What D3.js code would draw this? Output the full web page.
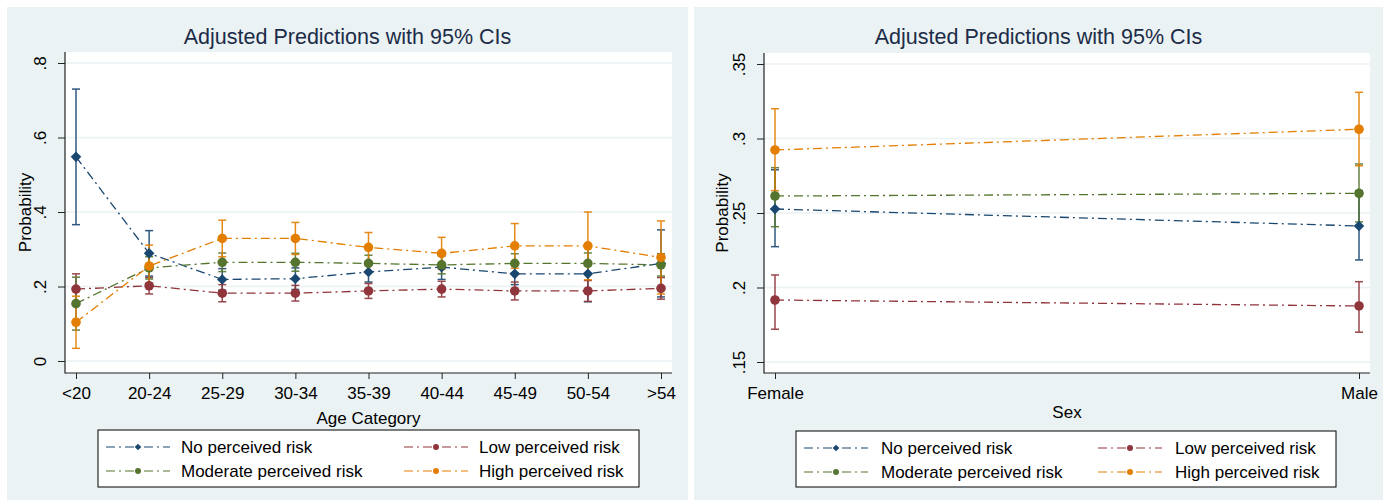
<!DOCTYPE html>
<html>
<head>
<meta charset="utf-8">
<script src="https://cdn.jsdelivr.net/npm/d3@7"></script>
<style>
  body { margin: 0; background: #fff; }
  svg { display: block; font-family: "Liberation Sans", Arial, sans-serif; }
</style>
</head>
<body>
<div id="chart"></div>
<script>
// series shared by both panels
const seriesNames = ['No perceived risk', 'Low perceived risk', 'Moderate perceived risk', 'High perceived risk'];
const seriesColors = ['#1a476f', '#90353b', '#55752f', '#e37e00'];
const seriesSymbols = ['diamond', 'circle', 'circle', 'circle'];

// left panel: age category
const ageCats = ['<20', '20-24', '25-29', '30-34', '35-39', '40-44', '45-49', '50-54', '>54'];
const ageNoEst = [0.548, 0.289, 0.219, 0.221, 0.239, 0.252, 0.234, 0.234, 0.262];
const ageNoLo  = [0.366, 0.228, 0.190, 0.192, 0.212, 0.219, 0.205, 0.159, 0.172];
const ageNoHi  = [0.730, 0.350, 0.248, 0.250, 0.266, 0.285, 0.263, 0.309, 0.352];
const ageLowEst = [0.193, 0.202, 0.182, 0.182, 0.188, 0.193, 0.188, 0.188, 0.195];
const ageLowLo  = [0.152, 0.180, 0.159, 0.161, 0.168, 0.172, 0.164, 0.160, 0.166];
const ageLowHi  = [0.234, 0.224, 0.205, 0.203, 0.208, 0.214, 0.212, 0.216, 0.224];
const ageModEst = [0.154, 0.250, 0.265, 0.265, 0.262, 0.258, 0.262, 0.262, 0.258];
const ageModLo  = [0.083, 0.220, 0.240, 0.241, 0.240, 0.234, 0.236, 0.234, 0.228];
const ageModHi  = [0.225, 0.280, 0.290, 0.289, 0.284, 0.282, 0.288, 0.290, 0.288];
const ageHighEst = [0.104, 0.255, 0.329, 0.329, 0.305, 0.289, 0.309, 0.309, 0.278];
const ageHighLo  = [0.034, 0.200, 0.280, 0.286, 0.265, 0.246, 0.249, 0.218, 0.180];
const ageHighHi  = [0.174, 0.311, 0.378, 0.372, 0.345, 0.332, 0.369, 0.400, 0.376];
const ageYTicks = [0, 0.2, 0.4, 0.6, 0.8];
const ageYLabels = ['0', '.2', '.4', '.6', '.8'];

// right panel: sex
const sexCats = ['Female', 'Male'];
const sexNoEst = [0.2527, 0.2413];
const sexNoLo  = [0.2274, 0.2185];
const sexNoHi  = [0.2790, 0.2650];
const sexLowEst = [0.1916, 0.1876];
const sexLowLo  = [0.1720, 0.1700];
const sexLowHi  = [0.2084, 0.2039];
const sexModEst = [0.2614, 0.2632];
const sexModLo  = [0.2408, 0.2440];
const sexModHi  = [0.2804, 0.2829];
const sexHighEst = [0.2923, 0.3062];
const sexHighLo  = [0.2650, 0.2817];
const sexHighHi  = [0.3200, 0.3310];
const sexYTicks = [0.15, 0.2, 0.25, 0.3, 0.35];
const sexYLabels = ['.15', '.2', '.25', '.3', '.35'];

const svg = d3.select('#chart').append('svg')
  .attr('width', 1389)
  .attr('height', 502);

const bgColor = '#eaf2f3';
const dash = '9,4,2,4';

function marker(sel, type, color, big) {
  if (type === 'diamond') {
    // square turned 45 degrees, like Stata's diamond
    sel.append('path')
      .attr('d', d3.symbol(d3.symbolSquare, big ? 56 : 22)())
      .attr('transform', 'rotate(45)')
      .attr('fill', color);
  } else {
    sel.append('circle').attr('r', big ? 4.8 : 3).attr('fill', color);
  }
}

function drawPanel(p) {
  const g = svg.append('g');
  // panel + plot region
  g.append('rect')
    .attr('x', p.box[0]).attr('y', p.box[1])
    .attr('width', p.box[2] - p.box[0]).attr('height', p.box[3] - p.box[1])
    .attr('fill', bgColor);
  g.append('rect')
    .attr('x', p.plot.left).attr('y', p.plot.top)
    .attr('width', p.plot.right - p.plot.left).attr('height', p.plot.bottom - p.plot.top)
    .attr('fill', '#fff');

  const x = d3.scalePoint().domain(p.cats).range(p.xRange);
  const y = d3.scaleLinear().domain(p.yDomain).range(p.yRange);

  // grid
  g.selectAll('.grid').data(p.yTicks).enter().append('line')
    .attr('x1', p.plot.left).attr('x2', p.plot.right)
    .attr('y1', d => y(d)).attr('y2', d => y(d))
    .attr('stroke', bgColor).attr('stroke-width', 1.5);

  // axes
  const yAxis = d3.axisLeft(y).tickValues(p.yTicks)
    .tickFormat((d, i) => p.yLabels[i]).tickSize(7).tickSizeOuter(0);
  const ya = g.append('g').attr('transform', 'translate(' + p.plot.left + ',0)').call(yAxis);
  ya.select('.domain').remove();
  ya.selectAll('line').attr('stroke', '#222');
  ya.selectAll('text')
    .attr('x', 0).attr('dy', '0.35em')
    .attr('text-anchor', 'middle')
    .attr('fill', '#000')
    .style('font-size', '17px')
    .attr('transform', 'translate(-25,0) rotate(-90)');

  const xAxis = d3.axisBottom(x).tickSize(6).tickSizeOuter(0).tickPadding(8);
  const xa = g.append('g').attr('transform', 'translate(0,' + p.plot.bottom + ')').call(xAxis);
  xa.select('.domain').remove();
  xa.selectAll('line').attr('stroke', '#222');
  xa.selectAll('text').attr('fill', '#000').style('font-size', '17px');
  ya.attr('font-family', null);
  xa.attr('font-family', null);

  g.append('line')
    .attr('x1', p.plot.left).attr('x2', p.plot.left)
    .attr('y1', p.plot.top).attr('y2', p.plot.bottom + 0.5)
    .attr('stroke', '#222').attr('stroke-width', 1.2);
  g.append('line')
    .attr('x1', p.plot.left).attr('x2', p.plot.right)
    .attr('y1', p.plot.bottom).attr('y2', p.plot.bottom)
    .attr('stroke', '#222').attr('stroke-width', 1.2);

  // CIs
  p.series.forEach((s, k) => {
    const c = seriesColors[k];
    const ci = g.append('g').attr('stroke', c).attr('stroke-width', 1.5).attr('opacity', 0.9);
    s.est.forEach((v, i) => {
      const cx = x(p.cats[i]);
      ci.append('line').attr('x1', cx).attr('x2', cx).attr('y1', y(s.lo[i])).attr('y2', y(s.hi[i]));
      ci.append('line').attr('x1', cx - 4).attr('x2', cx + 4).attr('y1', y(s.lo[i])).attr('y2', y(s.lo[i]));
      ci.append('line').attr('x1', cx - 4).attr('x2', cx + 4).attr('y1', y(s.hi[i])).attr('y2', y(s.hi[i]));
    });
  });

  // connected lines + markers
  p.series.forEach((s, k) => {
    const c = seriesColors[k];
    const line = d3.line().x((d, i) => x(p.cats[i])).y(d => y(d));
    g.append('path').attr('d', line(s.est))
      .attr('fill', 'none').attr('stroke', c).attr('stroke-width', 1.3)
      .attr('stroke-dasharray', dash);
    s.est.forEach((v, i) => {
      const m = g.append('g').attr('transform', 'translate(' + x(p.cats[i]) + ',' + y(v) + ')');
      marker(m, seriesSymbols[k], c, true);
    });
  });

  // titles
  g.append('text')
    .attr('x', (p.box[0] + p.box[2]) / 2).attr('y', 44)
    .attr('text-anchor', 'middle')
    .attr('fill', '#1c2c48')
    .style('font-size', '21.5px')
    .text('Adjusted Predictions with 95% CIs');
  g.append('text')
    .attr('transform', 'translate(' + p.yTitleX + ',' + ((p.plot.top + p.plot.bottom) / 2) + ') rotate(-90)')
    .attr('text-anchor', 'middle').attr('dy', '0.35em')
    .attr('fill', '#000').style('font-size', '17px')
    .text('Probability');
  g.append('text')
    .attr('x', (p.plot.left + p.plot.right) / 2).attr('y', p.xTitleY)
    .attr('text-anchor', 'middle')
    .attr('fill', '#000').style('font-size', '17px')
    .text(p.xTitle);

  // legend
  const L = p.legend;
  g.append('rect')
    .attr('x', L.x0).attr('y', L.y0)
    .attr('width', L.x1 - L.x0).attr('height', L.y1 - L.y0)
    .attr('fill', '#fff').attr('stroke', '#000').attr('stroke-width', 1);
  seriesNames.forEach((name, k) => {
    const col = k % 2, row = Math.floor(k / 2);
    const lx = L.cols[col], ly = L.rows[row];
    const it = g.append('g').attr('transform', 'translate(' + lx + ',' + ly + ')');
    it.append('line').attr('x1', 0).attr('x2', 64).attr('y1', 0).attr('y2', 0)
      .attr('stroke', seriesColors[k]).attr('stroke-width', 1.2)
      .attr('stroke-dasharray', dash);
    const m = it.append('g').attr('transform', 'translate(32,0)');
    marker(m, seriesSymbols[k], seriesColors[k], false);
    it.append('text').attr('x', L.textDx).attr('dy', '0.35em')
      .attr('fill', '#000').style('font-size', '17px')
      .text(name);
  });
}

drawPanel({
  box: [7, 7, 688, 500],
  plot: { left: 65, right: 672, top: 52, bottom: 373 },
  cats: ageCats,
  xRange: [76, 661],
  yDomain: [0, 0.8], yRange: [361, 63],
  yTicks: ageYTicks, yLabels: ageYLabels,
  series: [
    { est: ageNoEst, lo: ageNoLo, hi: ageNoHi },
    { est: ageLowEst, lo: ageLowLo, hi: ageLowHi },
    { est: ageModEst, lo: ageModLo, hi: ageModHi },
    { est: ageHighEst, lo: ageHighLo, hi: ageHighHi }
  ],
  yTitleX: 25,
  xTitle: 'Age Category', xTitleY: 424,
  legend: { x0: 98, x1: 639, y0: 430, y1: 487, rows: [447, 471], cols: [106, 404], textDx: 75 }
});

drawPanel({
  box: [694, 7, 1383, 500],
  plot: { left: 764, right: 1370, top: 53, bottom: 373 },
  cats: sexCats,
  xRange: [775, 1359],
  yDomain: [0.15, 0.35], yRange: [362, 64],
  yTicks: sexYTicks, yLabels: sexYLabels,
  series: [
    { est: sexNoEst, lo: sexNoLo, hi: sexNoHi },
    { est: sexLowEst, lo: sexLowLo, hi: sexLowHi },
    { est: sexModEst, lo: sexModLo, hi: sexModHi },
    { est: sexHighEst, lo: sexHighLo, hi: sexHighHi }
  ],
  yTitleX: 722,
  xTitle: 'Sex', xTitleY: 418,
  legend: { x0: 796, x1: 1336, y0: 431, y1: 487, rows: [448, 472], cols: [804, 1098], textDx: 77 }
});
</script>
</body>
</html>
